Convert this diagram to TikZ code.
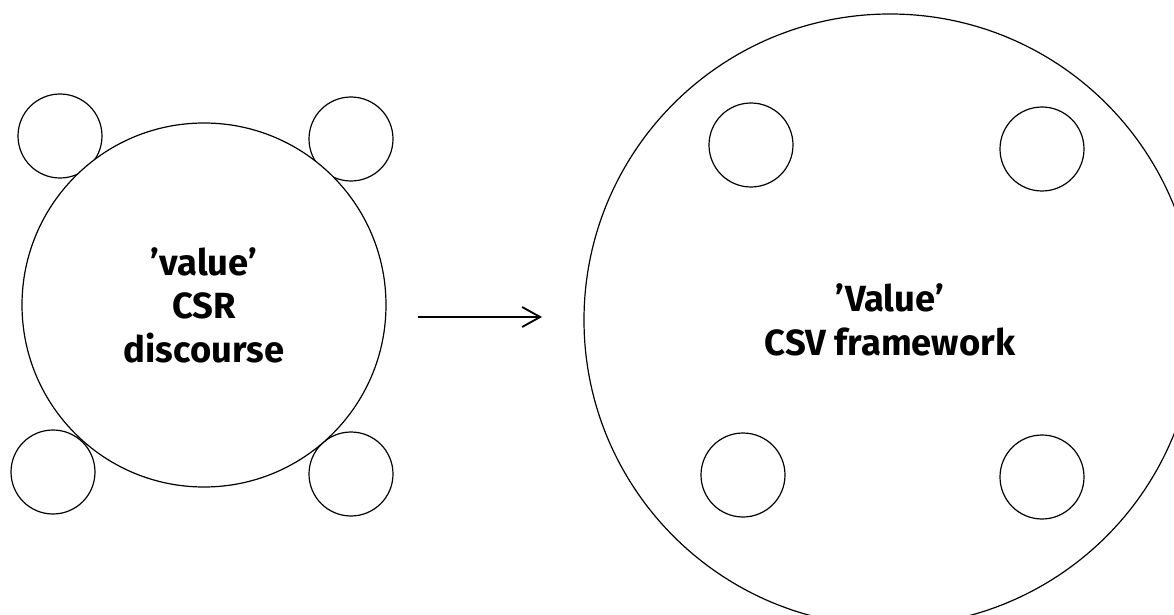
\documentclass[tikz,border=0pt]{standalone}
\usepackage{fontspec}
\setmainfont{Fira Sans}
\usetikzlibrary{arrows.meta}
\tikzset{
  big/.style={circle, draw=black, line width=0.6pt, inner sep=0pt, align=center,
    font=\bfseries\fontsize{18.2}{21.8}\selectfont},
  small/.style={circle, draw=black, line width=0.6pt, inner sep=0pt, minimum size=42pt},
  arr/.style={line width=0.9pt, -{Straight Barb[length=9pt,width=10pt,line width=0.9pt]}}
}
\begin{document}
\begin{tikzpicture}[x=0.5pt,y=-0.5pt]
\useasboundingbox (0,0) rectangle (1174,615);
\clip (0,0) rectangle (1174,615);
% left group
\node[small] (lt) at (60,136) {};
\node[small] (rt) at (351,139) {};
\node[small] (lb) at (53,472) {};
\node[small] (rb) at (351,474) {};
\node[big, fill=white, minimum size=182pt] (L) at (204,305) {'value'\\CSR\\discourse};
% right group
\node[big, minimum size=306pt] (R) at (890,320) {'Value'\\CSV framework};
\node[small] (r1) at (751,145) {};
\node[small] (r2) at (1042,149) {};
\node[small] (r3) at (743,475) {};
\node[small] (r4) at (1042,477) {};
% arrow
\coordinate (a1) at (418,317);
\coordinate (a2) at (542,317);
\draw[arr] (a1) -- (a2);
\end{tikzpicture}
\end{document}
